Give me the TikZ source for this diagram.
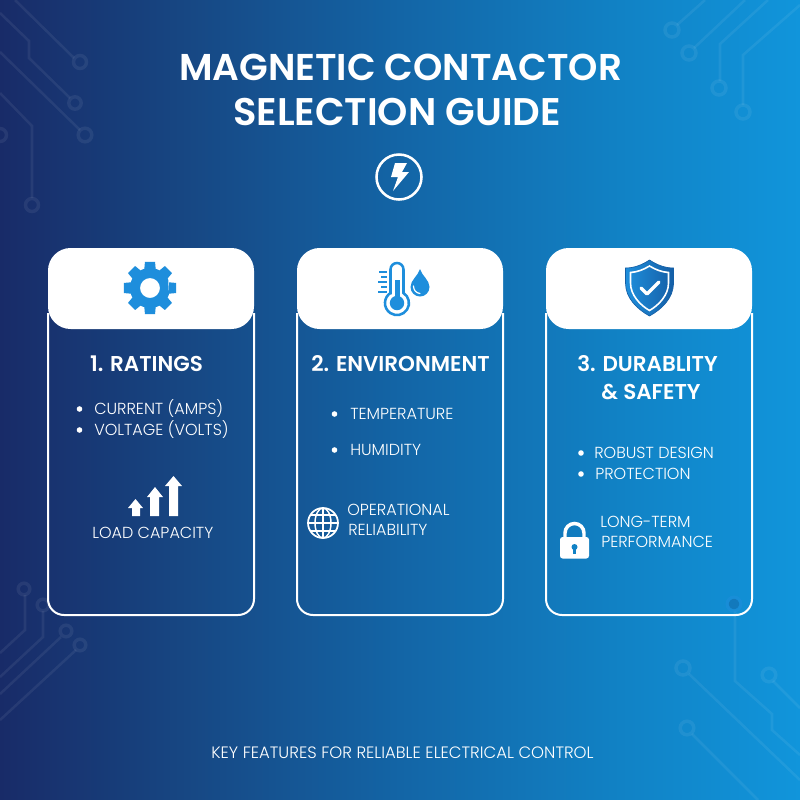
\documentclass[tikz,border=0pt]{standalone}
\usepackage{fontspec}
\setmainfont{Poppins}
\newfontfamily\semi{Poppins SemiBold}
\newfontfamily\lite{Poppins Light}
\usetikzlibrary{calc}
\definecolor{bgA}{HTML}{182B68}
\definecolor{bgB}{HTML}{174682}
\definecolor{bgC}{HTML}{1365A6}
\definecolor{bgD}{HTML}{1182C5}
\definecolor{bgE}{HTML}{1195DB}
\definecolor{iconblue}{HTML}{1E8EDC}
\definecolor{icondark}{HTML}{155FA6}
\pgfdeclarehorizontalshading{bgshade}{100bp}{
  color(0bp)=(bgA); color(25bp)=(bgA); color(36.25bp)=(bgB);
  color(50bp)=(bgC); color(63.75bp)=(bgD); color(75bp)=(bgE); color(100bp)=(bgE)}
\tikzset{
  x=0.75pt,y=-0.75pt,
  trace/.style={draw=white,draw opacity=0.065,line width=1.9pt,line join=miter},
  pad/.style={draw=white,draw opacity=0.065,line width=2.6pt},
  card/.style={draw=white,line width=1.5pt,rounded corners=12pt},
  header/.style={fill=white,rounded corners=17pt},
  title/.style={inner sep=0,text=white,font=\semi\fontsize{28pt}{28pt}\selectfont,anchor=base},
  head/.style={inner sep=0,text=white,font=\semi\fontsize{16.1pt}{16.1pt}\selectfont,anchor=base},
  body/.style={inner sep=0,text=white,font=\lite\fontsize{12pt}{12pt}\selectfont,anchor=base west},
  bdot/.style={fill=white},
}
\begin{document}
\begin{tikzpicture}
\useasboundingbox (0,0) rectangle (800,800);
\shade[shading=bgshade] (0,0) rectangle (800,800);
% circuit traces: top left
\draw[trace] (15,0) -- (74,58);
\draw[pad] (80,62) circle (6.5);
\draw[trace] (0,13) -- (29,41) -- (29,58) -- (70,98);
\draw[pad] (75,103) circle (6.2);
\draw[trace] (0,52) -- (80,130);
\draw[pad] (85,135) circle (6.8);
\draw[trace] (0,93) -- (32,126) -- (32,198);
\draw[pad] (32,205) circle (6.5);
\draw[pad] (0,135) circle (6.5);
% top right
\draw[trace] (705,0) -- (677,25);
\draw[pad] (672,30) circle (7);
\draw[trace] (745,0) -- (694,48);
\draw[pad] (689,53) circle (7);
\draw[trace] (768,0) -- (720,44) -- (720,81);
\draw[pad] (719,88) circle (7);
\draw[trace] (800,5) -- (743,55) -- (743,105);
\draw[pad] (743,112) circle (7);
% bottom left
\draw[trace] (0,653) -- (25,630) -- (25,595);
\draw[pad] (24,589) circle (5.8);
\draw[trace] (0,677) -- (43,637) -- (43,611);
\draw[pad] (43,605) circle (5.8);
\draw[trace] (0,694) -- (61,637);
\draw[pad] (66,631) circle (5.8);
\draw[trace] (0,720) -- (76,650);
\draw[pad] (80,645) circle (5.8);
% bottom right
\draw[trace] (735,611) -- (735,681) -- (772,714) -- (772,730) -- (800,755);
\fill[bgC,fill opacity=0.5] (734,604) circle (5.5);
\draw[draw=iconblue,draw opacity=0.55,line width=2.4pt] (734,604) circle (6.8);
\draw[trace] (689,674) -- (800,780);
\draw[pad] (683,668) circle (7);
\draw[trace] (773,681) -- (800,708);
\draw[pad] (769,675) circle (6.8);
\draw[trace] (692,734) -- (758,800);
\draw[pad] (687,728) circle (6.8);
% title
\node[title] (t1) at (400.5,80) {MAGNETIC CONTACTOR};
\node[title,font=\semi\fontsize{28.9pt}{28.9pt}\selectfont] (t2) at (397,125) {SELECTION GUIDE};
% bolt icon
\draw[white,line width=1.9pt] (399,177) circle (22.5);
\fill[white] (395,163) -- (407,163) -- (402,172) -- (409,172) -- (393,191) -- (398,177) -- (391,177) -- cycle;
% cards
\foreach \cx in {48,297,546}{
  \draw[card] (\cx,313) -- (\cx,615) -- ++(206,0) -- ++(0,-302);
  \fill[header] (\cx,248) rectangle ++(206,81);
}
% gear
\begin{scope}[shift={(150,288)}]
\fill[iconblue,even odd rule]
  (22.5:20)
  foreach \a in {0,45,...,315}{
    -- ({\a-22.5+6}:20) -- ({\a-11}:26.5) -- ({\a+11}:26.5) -- ({\a+22.5-6}:20) -- ({\a+22.5}:20)
  } -- cycle
  (0,0) circle (10);
\end{scope}
% thermometer
\draw[iconblue,line width=1.9pt]
  (390.5,293) -- (390.5,269.5) arc[start angle=180,end angle=360,radius=6.5] -- (403.5,293)
  arc[start angle=-57,delta angle=294,radius=12] -- cycle;
\fill[iconblue] (394.5,280) rectangle (400,300);
\fill[iconblue] (397,303) circle (7.2);
\foreach \yy/\xs in {272/379,277/381,282/378,287/381,292/378}{
  \draw[iconblue,line width=1.2pt] (\xs,\yy) -- (387,\yy);
}
% drop
\fill[iconblue] (420,269) .. controls (422,276) and (429.5,280) .. (429.5,287)
  .. controls (429.5,292.5) and (425,296.5) .. (420,296.5)
  .. controls (415,296.5) and (410.5,292.5) .. (410.5,287)
  .. controls (410.5,280) and (418,276) .. (420,269) -- cycle;
\draw[white,line width=0.9pt,line cap=round] (413.5,286) .. controls (413.5,290) and (416,293) .. (420,293.5);
% shield
\shade[left color=iconblue,right color=icondark,draw=icondark,line width=0.5pt]
  (649.5,260) .. controls (657,265) and (665,268) .. (673.5,268)
  -- (673.5,283) .. controls (673.5,298) and (662,309) .. (649.5,316)
  .. controls (637,309) and (625.5,298) .. (625.5,283)
  -- (625.5,268) .. controls (634,268) and (642,265) .. (649.5,260) -- cycle;
\draw[white,line width=1.2pt]
  (649.5,266) .. controls (656,270) and (662,272) .. (668.5,272.5)
  -- (668.5,283) .. controls (668.5,295) and (659,305) .. (649.5,310.5)
  .. controls (640,305) and (630.5,295) .. (630.5,283)
  -- (630.5,272.5) .. controls (637,272) and (643,270) .. (649.5,266) -- cycle;
\draw[white,line width=2.4pt,line cap=round,line join=round] (641,288) -- (647,294) -- (659,282);
% headings
\node[head] (h1) at (146.5,371) {1. RATINGS};
\node[head] (h2) at (400.5,371) {2. ENVIRONMENT};
\node[head] (h3) at (647.5,371) {3. DURABLITY};
\node[head] (h4) at (651,399) {\& SAFETY};
% card 1 body
\fill[bdot] (79.5,409) circle (2.8);
\fill[bdot] (79.5,430) circle (2.8);
\node[body] (c1a) at (94,414) {CURRENT (AMPS)};
\node[body] (c1b) at (94,435.5) {VOLTAGE (VOLTS)};
\fill[white] (128,508) -- (135.5,499) -- (143,508) -- (140,508) -- (140,516) -- (132,516) -- (132,508) -- cycle;
\fill[white] (147,497) -- (155,487) -- (163,497) -- (159,497) -- (159,516) -- (150,516) -- (150,497) -- cycle;
\fill[white] (165,486) -- (173.5,476) -- (182,486) -- (178,486) -- (178,516) -- (169,516) -- (169,486) -- cycle;
\node[body] (c1c) at (92,538.5) {LOAD CAPACITY};
% card 2 body
\fill[bdot] (334.5,414) circle (2.8);
\fill[bdot] (334.5,450) circle (2.8);
\node[body] (c2a) at (350,419.5) {TEMPERATURE};
\node[body] (c2b) at (350,455.5) {HUMIDITY};
\draw[white,line width=1.3pt] (323,523) circle (15);
\draw[white,line width=1.1pt] (323,508) -- (323,538) (308,523) -- (338,523)
  (310.5,515) -- (335.5,515) (310.5,531) -- (335.5,531);
\draw[white,line width=1.1pt] (323,523) ellipse (8 and 15);
\node[body] (c2c) at (347,515.5) {OPERATIONAL};
\node[body] (c2d) at (348,535.5) {RELIABILITY};
% card 3 body
\fill[bdot] (581,453) circle (2.8);
\fill[bdot] (581,474) circle (2.8);
\node[body] (c3a) at (594,458.5) {ROBUST DESIGN};
\node[body] (c3b) at (595,479.5) {PROTECTION};
\draw[white,line width=2.6pt] (565,540) -- (565,533) arc[start angle=180,end angle=360,radius=9.5] -- (584,540);
\fill[white,rounded corners=2pt] (560,537) rectangle (589,558.5);
\fill[bgD] (574.5,547) circle (3);
\fill[bgD] (573,548) rectangle (576,554);
\node[body] (c3c) at (600,527.5) {LONG-TERM};
\node[body] (c3d) at (601,547.5) {PERFORMANCE};
% footer
\node[body,anchor=base,font=\lite\fontsize{12.35pt}{12.35pt}\selectfont] (foot) at (402.5,758.5) {KEY FEATURES FOR RELIABLE ELECTRICAL CONTROL};
\end{tikzpicture}
\end{document}
